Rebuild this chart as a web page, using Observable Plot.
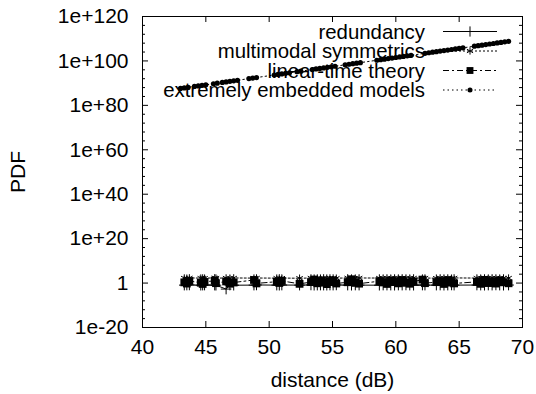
<!DOCTYPE html>
<html><head><meta charset="utf-8">
<script src="https://cdn.jsdelivr.net/npm/d3@7"></script>
<script src="https://cdn.jsdelivr.net/npm/@observablehq/plot@0.6"></script>
<style>
body{margin:0;background:#fff}
svg{font-family:"Liberation Sans",Arial,sans-serif}
</style>
</head><body><div id="chart"></div>
<script>
// ---- data ----
const seriesNames = ["redundancy", "multimodal symmetrics", "linear-time theory", "extremely embedded models"];

// shared x positions for the three series clustered around 1
const lowX = [43.3, 43.5, 43.7, 44.6, 44.75, 44.9, 45.7, 45.8, 46.6, 46.9, 47.2, 48.8, 49.0, 50.6, 50.8, 51.0,
  52.4, 53.3, 53.55, 53.8, 54.05, 54.3, 54.55, 54.8, 55.05, 55.3, 56.2, 56.5, 56.8, 57.1,
  58.7, 59.0, 59.3, 59.6, 59.9, 60.2, 60.5, 60.8, 61.1, 61.4, 62.1, 62.3, 63.2, 63.5, 63.8, 64.1, 64.4, 64.6,
  66.4, 66.7, 67.0, 67.3, 67.6, 67.9, 68.2, 68.5, 68.9];
const redundancyY = [0.12, 0.13, 0.14, 0.11, 0.12, 0.13, 0.12, 0.11, 0.002, 0.13, 0.11, 0.12, 0.14, 0.12, 0.11, 0.13,
  0.12, 0.14, 0.11, 0.12, 0.13, 0.12, 0.11, 0.13, 0.12, 0.14, 0.12, 0.11, 0.13, 0.12,
  0.11, 0.13, 0.12, 0.12, 0.11, 0.13, 0.12, 0.14, 0.12, 0.11, 0.13, 0.12, 0.12, 0.13, 0.11, 0.12, 0.14, 0.12,
  0.13, 0.12, 0.11, 0.13, 0.12, 0.14, 0.12, 0.11, 0.13];
const multimodalY = [180, 150, 210, 170, 190, 160, 220, 175, 185, 155, 200, 170, 190, 165, 210, 180,
  150, 195, 175, 185, 160, 205, 170, 190, 180, 155, 215, 175, 165, 195,
  185, 170, 200, 160, 190, 175, 210, 180, 165, 195, 170, 185, 160, 200, 175, 190, 155, 205,
  180, 165, 195, 170, 210, 185, 160, 190, 175];
const linearY = [2.1, 0.6, 8.5, 1.4, 0.4, 3.2, 12, 0.9, 5.5, 0.5, 1.8, 25, 0.7, 4.2, 1.1, 9.6,
  0.45, 2.8, 40, 0.8, 6.3, 1.5, 0.35, 3.7, 15, 0.65, 2.4, 50, 1.2, 0.55,
  7.1, 1.9, 0.4, 11, 3.0, 0.75, 22, 1.3, 0.5, 4.8, 35, 0.9, 2.6, 6.0, 0.4, 18, 1.6, 0.7,
  3.4, 0.45, 28, 1.0, 5.2, 0.6, 13, 2.2, 0.8];

// rising series
const embX = [43.0, 43.3, 43.6, 44.1, 44.4, 44.7, 45.0, 45.6, 45.9, 46.3, 46.6, 46.9, 47.2, 47.5,
  48.4, 48.7, 49.0, 50.4, 50.7, 51.0, 51.3, 51.6, 52.2, 52.5, 53.4, 53.7, 54.0, 54.3, 54.6, 54.9, 55.2,
  56.0, 56.3, 56.6, 56.9, 57.2, 58.5, 58.8, 59.1, 59.4, 59.7, 60.0, 60.3, 60.6, 60.9, 61.2,
  62.3, 62.6, 62.9, 63.2, 63.5, 63.8, 64.1, 64.4, 64.7, 65.0, 65.3,
  66.2, 66.5, 66.8, 67.1, 67.4, 67.7, 68.0, 68.3, 68.6, 68.9];
const embY = [4e87, 7e87, 1.2e88, 3.2e88, 5.6e88, 1e89, 1.7e89, 5.4e89, 9.5e89, 2e90, 3.5e90, 6.3e90, 1.1e91, 1.9e91,
  1.1e92, 1.9e92, 3.3e92, 4.7e93, 8.2e93, 1.4e94, 2.6e94, 4.5e94, 1.4e95, 2.5e95, 1.3e96, 2.4e96, 4.2e96, 7.3e96, 1.3e97, 2.3e97, 4e97,
  1.8e98, 3.2e98, 5.6e98, 1e99, 1.7e99, 2e100, 3.6e100, 6.3e100, 1.1e101, 2e101, 3.5e101, 6.1e101, 1.1e102, 1.9e102, 3.3e102,
  2.7e103, 4.7e103, 8.3e103, 1.5e104, 2.6e104, 4.5e104, 8e104, 1.4e105, 2.5e105, 4.4e105, 7.7e105,
  4.2e106, 7.4e106, 1.3e107, 2.3e107, 4.1e107, 7.1e107, 1.3e108, 2.2e108, 3.9e108, 6.9e108];

const xTicks = [40, 45, 50, 55, 60, 65, 70];
const yTicks = [1e-20, 1, 1e20, 1e40, 1e60, 1e80, 1e100, 1e120];
const yMinorTicks = d3.range(-20, 121, 4).filter(e => e % 20 !== 0).map(e => 10 ** e);
const xLabel = "distance (dB)";
const yLabel = "PDF";

// ---- tables ----
const redundancy = lowX.map((x, i) => ({x, y: redundancyY[i]}));
const multimodal = lowX.map((x, i) => ({x, y: multimodalY[i]}));
const linear = lowX.map((x, i) => ({x, y: linearY[i]}));
const embedded = embX.map((x, i) => ({x, y: embY[i]}));

const W = 536, H = 394, mL = 142, mR = 14, mT = 16, mB = 67;
const pw = W - mL - mR, ph = H - mT - mB;
const major = 6, minor = 3;
const FS = 21, LFS = 20.4;

const yFmt = d => {
  const e = Math.round(Math.log10(d));
  return e === 0 ? "1" : "1e" + (e > 0 ? "+" : "") + e;
};

const chart = Plot.plot({
  width: W, height: H,
  marginLeft: mL, marginRight: mR, marginTop: mT, marginBottom: mB,
  style: {fontFamily: "Liberation Sans, Arial, sans-serif", fontSize: FS + "px", background: "white", color: "black"},
  x: {domain: [40, 70], axis: null},
  y: {type: "log", domain: [1e-20, 1e120], axis: null},
  marks: [
    // tick labels
    Plot.text(xTicks, {x: d => d, frameAnchor: "bottom", lineAnchor: "middle", dy: 20, fontSize: FS, text: d => String(d)}),
    Plot.text(yTicks, {y: d => d, frameAnchor: "left", lineAnchor: "middle", dx: -14, textAnchor: "end", fontSize: FS, text: yFmt}),
    // inward ticks (bottom/top, left/right)
    Plot.tickX(xTicks, {x: d => d, insetTop: ph - major, stroke: "black"}),
    Plot.tickX(xTicks, {x: d => d, insetBottom: ph - major, stroke: "black"}),
    Plot.tickY(yTicks, {y: d => d, insetRight: pw - major, stroke: "black"}),
    Plot.tickY(yTicks, {y: d => d, insetLeft: pw - major, stroke: "black"}),
    Plot.tickY(yMinorTicks, {y: d => d, insetRight: pw - minor, stroke: "black"}),
    Plot.tickY(yMinorTicks, {y: d => d, insetLeft: pw - minor, stroke: "black"}),
    Plot.text([xLabel], {frameAnchor: "bottom", lineAnchor: "middle", dy: 53, fontSize: FS, text: d => d}),
    Plot.text([yLabel], {frameAnchor: "left", lineAnchor: "middle", textAnchor: "middle", dx: -124, rotate: -90, fontSize: FS, text: d => d}),
    // series
    Plot.line(redundancy, {x: "x", y: "y", stroke: "black", strokeWidth: 1}),
    Plot.dot(redundancy, {x: "x", y: "y", symbol: "plus", r: 3.5, stroke: "black", strokeWidth: 1}),
    Plot.line(multimodal, {x: "x", y: "y", stroke: "black", strokeWidth: 1, strokeDasharray: "2,2"}),
    Plot.dot(multimodal, {x: "x", y: "y", symbol: "asterisk", r: 3.5, stroke: "black", strokeWidth: 1}),
    Plot.line(linear, {x: "x", y: "y", stroke: "black", strokeWidth: 1, strokeDasharray: "6,3,2,3"}),
    Plot.dot(linear, {x: "x", y: "y", symbol: "square", r: 4.4, fill: "black"}),
    Plot.line(embedded, {x: "x", y: "y", stroke: "black", strokeWidth: 1, strokeDasharray: "1.5,3"}),
    Plot.dot(embedded, {x: "x", y: "y", r: 2.6, fill: "black"}),
    Plot.frame({stroke: "black"})
  ]
});

// ---- legend (inside plot, top-right) ----
const svg = d3.select(chart);
const lg = svg.append("g").attr("font-size", LFS).attr("font-family", "Liberation Sans, Arial, sans-serif");
const dashes = [null, "2,2", "6,3,2,3", "1.5,3"];
const syms = [d3.symbolPlus, d3.symbolAsterisk, d3.symbolSquare, d3.symbolCircle];
seriesNames.forEach((name, i) => {
  const y = 31.5 + 19.5 * i;
  lg.append("text").attr("x", 425).attr("y", y).attr("dy", "0.35em")
    .attr("text-anchor", "end").attr("fill", "black").text(name);
  lg.append("line").attr("x1", 443).attr("x2", 497).attr("y1", y).attr("y2", y)
    .attr("stroke", "black").attr("stroke-width", 1)
    .attr("stroke-dasharray", dashes[i]);
  const filled = i >= 2;
  const size = i === 2 ? 47 : i === 3 ? 20 : 36;
  lg.append("path").attr("transform", `translate(470,${y})`)
    .attr("d", d3.symbol(syms[i], size)())
    .attr("fill", filled ? "black" : "none")
    .attr("stroke", filled ? "none" : "black").attr("stroke-width", 1);
});

document.getElementById("chart").append(chart);
</script>
</body></html>
